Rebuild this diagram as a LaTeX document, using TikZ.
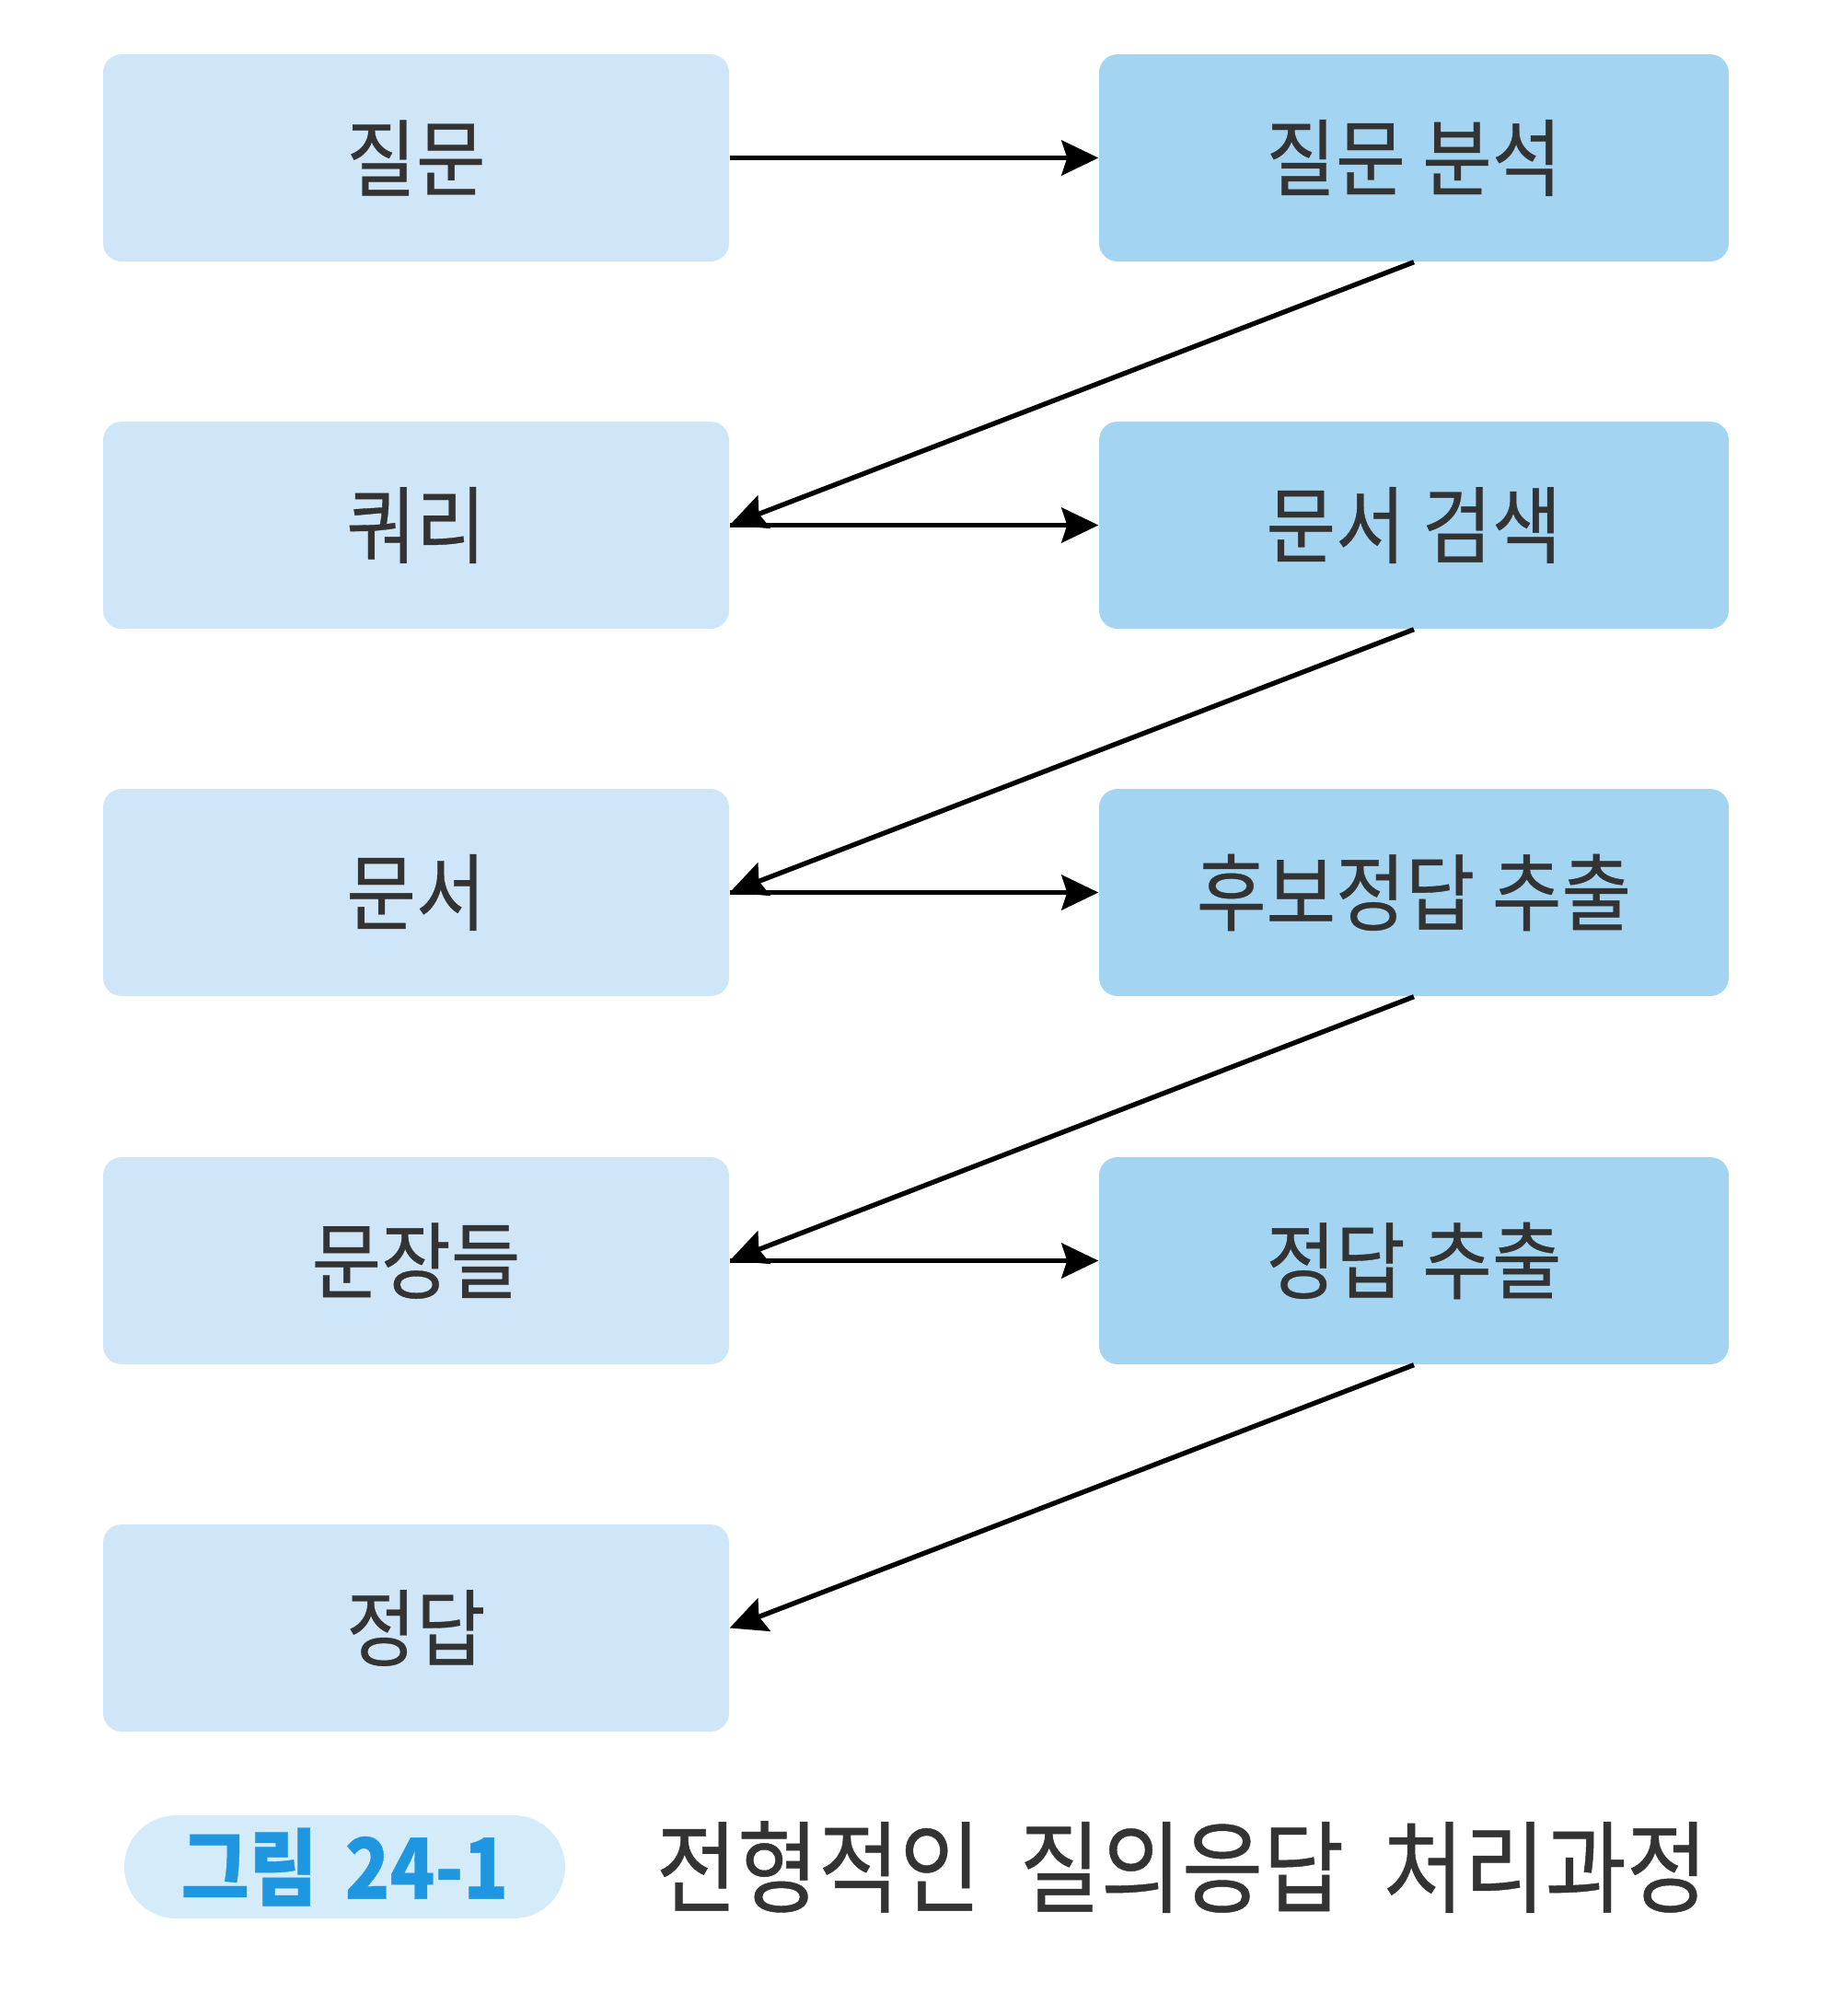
\documentclass[tikz,border=0pt]{standalone}
\usepackage{fontspec}
\usepackage{xcolor}
\usetikzlibrary{arrows.meta}
\setmainfont{Noto Sans CJK KR}
\newfontfamily\hangul[FakeStretch=0.9,FakeBold=0.4]{Noto Sans CJK KR}
\newfontfamily\hangulcap[FakeStretch=0.88,FakeBold=0.4]{Noto Sans CJK KR}
\definecolor{stepleft}{HTML}{CFE6F8}
\definecolor{stepright}{HTML}{A3D5F2}
\definecolor{pillblue}{HTML}{D4EBFA}
\definecolor{figblue}{HTML}{1E96E0}
\definecolor{textgray}{HTML}{333333}

\begin{document}
\begin{tikzpicture}[
    inbox/.style={fill=stepleft,rounded corners=0.2cm,minimum width=6.8cm,minimum height=2.25cm,inner sep=0pt,text=textgray,font=\hangul\fontsize{26}{30}\selectfont},
    workbox/.style={inbox,fill=stepright,minimum width=6.84cm},
    flow/.style={-{Stealth[length=0.4cm,width=0.38cm,inset=0.06cm]},line width=1.5pt,black}
  ]
            \useasboundingbox (0,0) rectangle (20,-21.9);

            \node[inbox] (question) at (4.52,-1.715) {질문};
            \node[inbox] (query) at (4.52,-5.705) {쿼리};
            \node[inbox] (docs) at (4.52,-9.695) {문서};
            \node[inbox] (sents) at (4.52,-13.695) {문장들};
            \node[inbox] (answer) at (4.52,-17.685) {정답};

            \node[workbox] (analyze) at (15.36,-1.715) {질문 분석};
            \node[workbox] (search) at (15.36,-5.705) {문서 검색};
            \node[workbox] (candidate) at (15.36,-9.695) {후보정답 추출};
            \node[workbox] (extract) at (15.36,-13.695) {정답 추출};

            \draw[flow] (question) -- (analyze);
            \draw[flow] (analyze.south) -- (query.east);
            \draw[flow] (query) -- (search);
            \draw[flow] (search.south) -- (docs.east);
            \draw[flow] (docs) -- (candidate);
            \draw[flow] (candidate.south) -- (sents.east);
            \draw[flow] (sents) -- (extract);
            \draw[flow] (extract.south) -- (answer.east);

            % caption
            \node[fill=pillblue,rounded corners=0.56cm,minimum width=4.79cm,minimum height=1.12cm,inner sep=0pt,text=figblue,font=\hangulcap\bfseries\fontsize{26}{30}\selectfont] (fignum) at (3.745,-20.28) {그림\hspace{0.3cm}24-1};
            \node[anchor=west,inner sep=0pt,text=textgray,font=\hangulcap\fontsize{31}{34}\selectfont] (figtitle) at (7.12,-20.28) {전형적인\hspace{0.42cm}질의응답\hspace{0.42cm}처리과정};
        \end{tikzpicture}
\end{document}
